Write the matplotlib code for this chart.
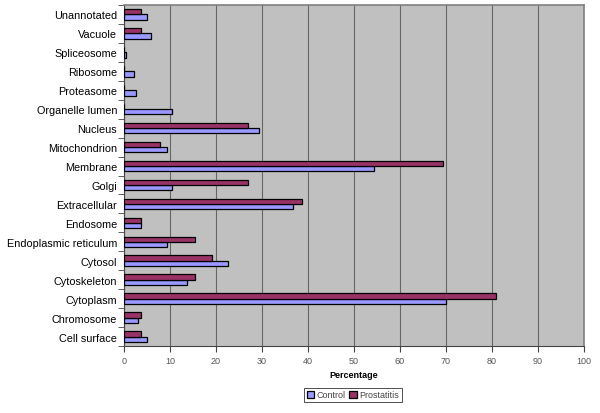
import matplotlib
matplotlib.use("Agg")
import matplotlib.pyplot as plt
import numpy as np

plt.rcParams["font.family"] = ["Liberation Sans", "DejaVu Sans"]

categories = ["Cell surface", "Chromosome", "Cytoplasm", "Cytoskeleton", "Cytosol",
              "Endoplasmic reticulum", "Endosome", "Extracellular", "Golgi", "Membrane",
              "Mitochondrion", "Nucleus", "Organelle lumen", "Proteasome", "Ribosome",
              "Spliceosome", "Vacuole", "Unannotated"]
control = [4.9, 3.1, 69.9, 13.8, 22.5, 9.3, 3.8, 36.8, 10.5, 54.3,
           9.4, 29.3, 10.5, 2.5, 2.2, 0.4, 5.8, 4.9]
prostatitis = [3.8, 3.8, 80.9, 15.5, 19.2, 15.5, 3.8, 38.7, 26.9, 69.3,
               7.8, 26.9, 0, 0, 0, 0, 3.8, 3.8]
xticks = list(range(0, 101, 10))

CONTROL_C = "#9999FF"
PROST_C = "#993366"

fig = plt.figure(figsize=(6.0, 4.14), dpi=100)
ax = fig.add_axes([124 / 600, 1 - 347 / 414, 460 / 600, 341 / 414])
ax.set_facecolor("#C0C0C0")

y = np.arange(len(categories))
h = 0.28
ax.barh(y - h / 2, control, h, color=CONTROL_C, edgecolor="black", linewidth=0.9,
        label="Control", zorder=3)
ax.barh(y + h / 2, prostatitis, h, color=PROST_C, edgecolor="black", linewidth=0.9,
        label="Prostatitis", zorder=3)

ax.set_xlim(0, 100)
ax.set_ylim(-0.5, len(categories) - 0.5)
ax.set_xticks(xticks)
ax.set_xticklabels([str(t) for t in xticks], fontsize=6.5, color="#555555")
ax.set_yticks(y)
ax.set_yticklabels(categories, fontsize=7.8)
ax.set_yticks(np.arange(len(categories) + 1) - 0.5, minor=True)
ax.tick_params(axis="y", which="major", length=0, pad=5)
ax.tick_params(axis="y", which="minor", length=4, color="#444444")
ax.tick_params(axis="x", length=4, color="#444444", pad=3)
ax.xaxis.grid(True, color="#666666", linewidth=0.8, zorder=1)

for s in ["top", "right"]:
    ax.spines[s].set_color("#808080")
    ax.spines[s].set_linewidth(1.2)
for s in ["left", "bottom"]:
    ax.spines[s].set_color("#444444")
    ax.spines[s].set_linewidth(0.8)

ax.set_xlabel("Percentage", fontsize=6.5, fontweight="bold", labelpad=4)

leg = fig.legend(loc="center", bbox_to_anchor=(353 / 600, 1 - 396 / 414), ncol=2,
                 fontsize=6.5, frameon=True, fancybox=False, handlelength=0.8,
                 handleheight=0.8, handletextpad=0.3, columnspacing=0.4,
                 borderpad=0.3, edgecolor="black")
leg.get_frame().set_linewidth(0.6)
for t in leg.get_texts():
    t.set_color("#444444")

fig.savefig("out.png", dpi=100)
